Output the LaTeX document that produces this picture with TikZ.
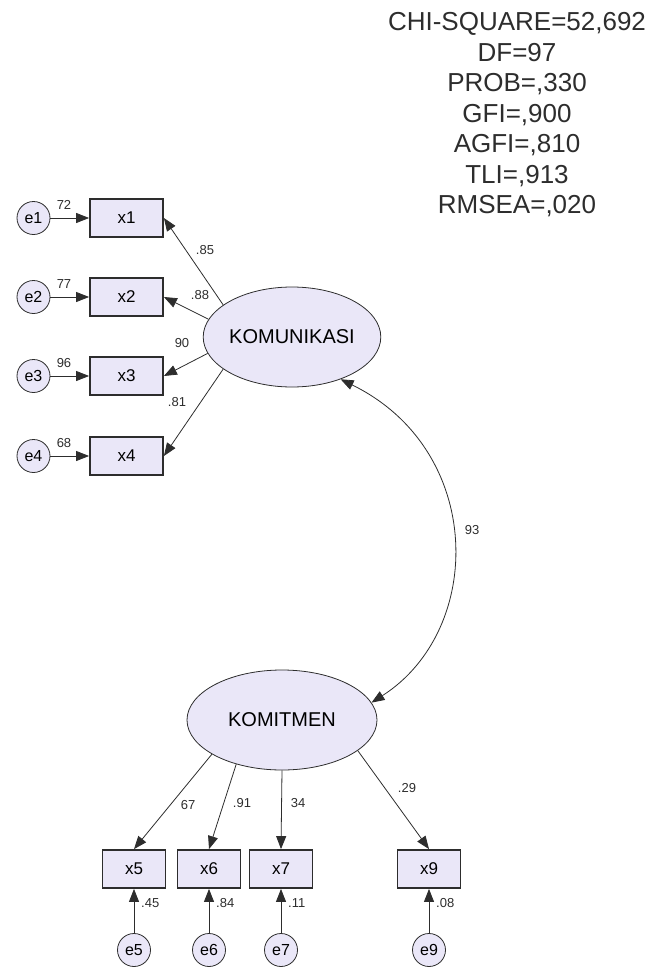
\documentclass[tikz,border=0pt]{standalone}
\usepackage{fontspec}
\setmainfont{Liberation Sans}
\usepackage{xcolor}
\usetikzlibrary{arrows.meta,positioning,shapes.geometric}
\definecolor{isian}{RGB}{234,231,248}
\definecolor{garis}{RGB}{45,45,45}
\tikzset{
    laten/.style={
        ellipse,
        draw=garis,
        thick,
        fill=isian,
        inner sep=0pt,
        minimum width=177pt,
        minimum height=100pt,
        font=\fontsize{20}{22}\selectfont
    },
    indikator/.style={
        rectangle,
        draw=garis,
        line width=1.8pt,
        fill=isian,
        minimum width=73pt,
        minimum height=38pt,
        font=\fontsize{17}{19}\selectfont
    },
    indikatorBawah/.style={indikator, minimum width=63pt},
    galat/.style={
        circle,
        draw=garis,
        thick,
        fill=isian,
        inner sep=0pt,
        minimum size=33pt,
        font=\fontsize{16}{18}\selectfont
    },
    panah/.style={-{Triangle[length=13pt,width=10pt]}, thick, draw=garis},
    kovarian/.style={{Triangle[length=13pt,width=10pt]}-{Triangle[length=13pt,width=10pt]}, thick, draw=garis},
    angka/.style={inner sep=1pt, text=garis, font=\fontsize{13}{14}\selectfont}
}

\begin{document}
\begin{tikzpicture}[x=1pt, y=-1pt]
        \useasboundingbox (0,0) rectangle (655,969);

        % ukuran kecocokan model
        \node[align=center, text=garis, font=\fontsize{26}{30.5}\selectfont] (fit) at (517,115)
            {CHI-SQUARE=52,692\\DF=97\\PROB=,330\\GFI=,900\\AGFI=,810\\TLI=,913\\RMSEA=,020};

        % variabel laten
        \node[laten] (kom) at (292,337) {KOMUNIKASI};
        \node[laten, minimum width=190pt] (kmt) at (282,720) {KOMITMEN};

        % indikator komunikasi
        \foreach \i/\y/\v in {1/218/72, 2/297/77, 3/376/96, 4/456/68} {
            \node[indikator] (x\i) at (126.5,\y) {x\i};
            \node[galat] (e\i) at (33.5,\y) {e\i};
            \draw[panah] (e\i) -- (x\i);
            \node[angka] at (64,\y-13) {\v};
        }

        % indikator komitmen
        \foreach \i/\x/\v in {5/134/.45, 6/209/.84, 7/281/.11, 9/429/.08} {
            \node[indikatorBawah] (x\i) at (\x,869) {x\i};
            \node[galat] (e\i) at (\x,950) {e\i};
            \draw[panah] (e\i) -- (x\i);
            \node[angka, anchor=west] at (\x+6,903) {\v};
        }

        \draw[panah] (kom.155) -- (x1.east);
        \draw[panah] (kom.168) -- (x2.east);
        \draw[panah] (kom.191) -- (x3.east);
        \draw[panah] (kom.205) -- (x4.east);
        \node[angka] at (205,250) {.85};
        \node[angka] at (200,295) {.88};
        \node[angka] at (182,343) {90};
        \node[angka] at (177,402) {.81};

        \draw[panah] (kmt.206) -- (x5.north);
        \draw[panah] (kmt.224) -- (x6.north);
        \draw[panah] (kmt.270) -- (x7.north);
        \draw[panah] (kmt.-22) -- (x9.north);
        \node[angka] at (188,805) {67};
        \node[angka] at (242,803) {.91};
        \node[angka] at (298,803) {34};
        \node[angka] at (407,788) {.29};

        \draw[kovarian] (kom.-41) .. controls (485,450) and (485,630) .. (kmt.11);
        \node[angka] at (472,530) {93};
    \end{tikzpicture}
\end{document}
